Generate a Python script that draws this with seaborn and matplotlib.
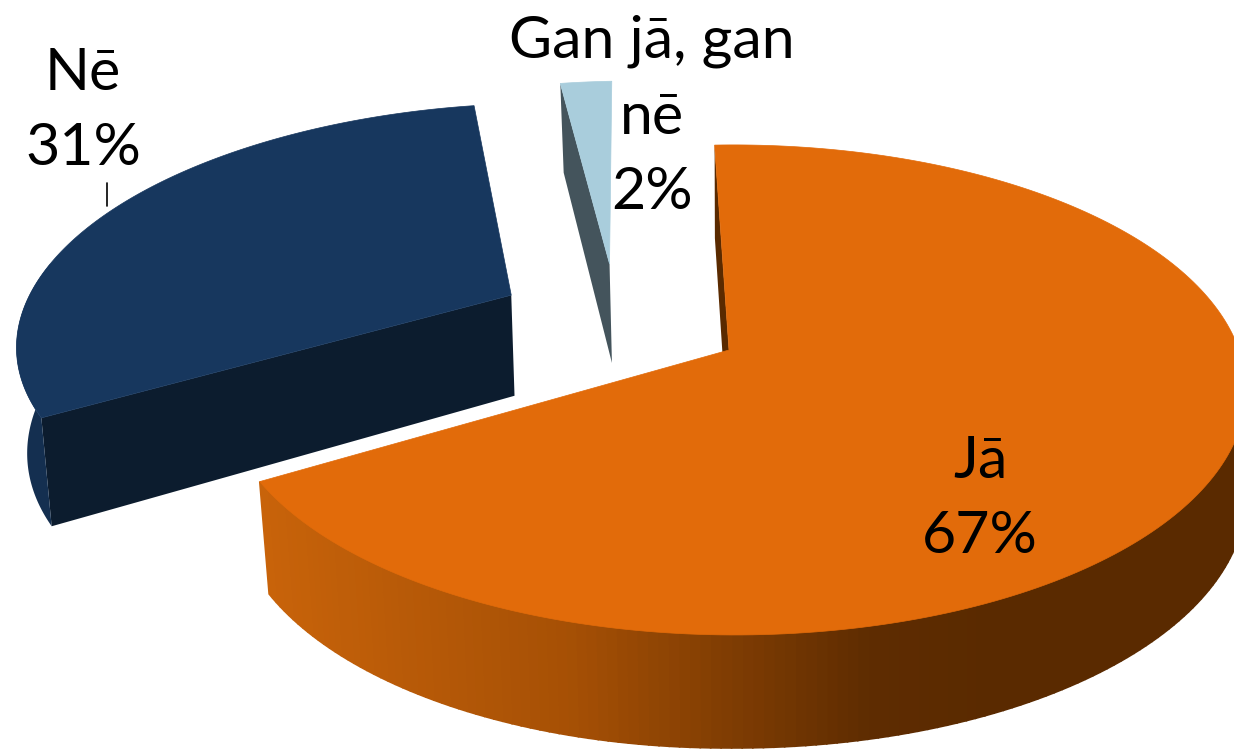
import numpy as np
import matplotlib
matplotlib.use("Agg")
import matplotlib.pyplot as plt
from matplotlib.colors import LinearSegmentedColormap
import seaborn as sns

# Data
categories = ["Jā", "Nē", "Gan jā, gan\nnē"]
shares = [67, 31, 2]

# Style
top_colors = sns.color_palette(["#E26B0A", "#17375E", "#A9CDDC"])
wall_colors = ["#5A2A00", "#0C1C2E", "#44545C"]
outer_colors = [None, "#142F50", "#44545C"]
explode = [(0.0, 0.0), (-0.45, -0.24), (-0.252, -0.385)]
radius = [1.0, 1.01, 1.0]
shrink = [0.98, 0.985, 0.98]
extra_depth = [5, 3, 0]
label_pos = [(980, 499), (83, 111), (652, 117)]

CX, CY, RX, RY, K, J = 729, 350, 505, 238.5, 0.163, 0.01
START = -1.9

sns.set_theme(style="white")
plt.rcParams["font.family"] = ["Lato", "DejaVu Sans"]


def project(X, Y):
    s = 1.0 / (1.0 - K * Y - J * X)
    return CX + RX * X * s, CY + RY * Y * s


def drop(x, y, Y, k):
    xb = np.where(x < CX, CX + (x - CX) * k, x)
    return xb, y + 103 + 10 * Y


fig = plt.figure(figsize=(12.34, 7.5), dpi=100)
ax = fig.add_axes([0, 0, 1, 1])
ax.set_xlim(0, 1234)
ax.set_ylim(750, 0)
ax.axis("off")

edges = START + np.cumsum([0] + shares) * 3.6
ramp = LinearSegmentedColormap.from_list(
    "wall", [(0, "#C8630A"), (0.42, "#A65005"), (0.83, "#5E2C01"), (1, "#5A2A00")]
)

for i in [1, 2, 0]:
    ex, ey = explode[i]
    ang = np.linspace(edges[i], edges[i + 1], 240)
    a = np.radians(ang)
    U, V = np.sin(a) * radius[i], -np.cos(a) * radius[i]
    X, Y = U + ex, V + ey
    x, y = project(X, Y)
    xa, ya = project(np.array(ex), np.array(ey))
    xb, yb = drop(x, y, Y, shrink[i])
    xab, yab = drop(xa, ya, ey, shrink[i])
    yb = yb + extra_depth[i] * np.clip(-U, 0, 1)

    # straight wall seen from the front
    ax.fill([x[0], xb[0], xab, xa], [y[0], yb[0], yab, ya], color=wall_colors[i], lw=0)

    # outer curved wall, only the part turned to the viewer
    seen = V > 0.0 if i == 0 else V > -0.15
    if i == 0:
        for n in np.flatnonzero(seen[:-1] & seen[1:]):
            t = np.clip((x[n] - 262) / (1000 - 262), 0, 1)
            ax.fill([x[n], x[n + 1], xb[n + 1], xb[n]], [y[n], y[n + 1], yb[n + 1], yb[n]],
                    color=ramp(t), lw=1.2)
    elif i == 1:
        ax.fill(np.r_[x[seen], xb[seen][::-1]], np.r_[y[seen], yb[seen][::-1]],
                color=outer_colors[i], lw=0)

    # top face
    ax.fill(np.r_[xa, x], np.r_[ya, y], facecolor=top_colors[i],
            edgecolor=top_colors[i], lw=0.5)

ax.plot([107, 107], [183, 206], color="black", lw=1.2)

for name, share, (lx, ly) in zip(categories, shares, label_pos):
    ax.text(lx, ly, f"{name}\n{share}%", ha="center", va="center",
            fontsize=42.5, color="black", linespacing=1.52)

fig.savefig("out.png", dpi=100)
